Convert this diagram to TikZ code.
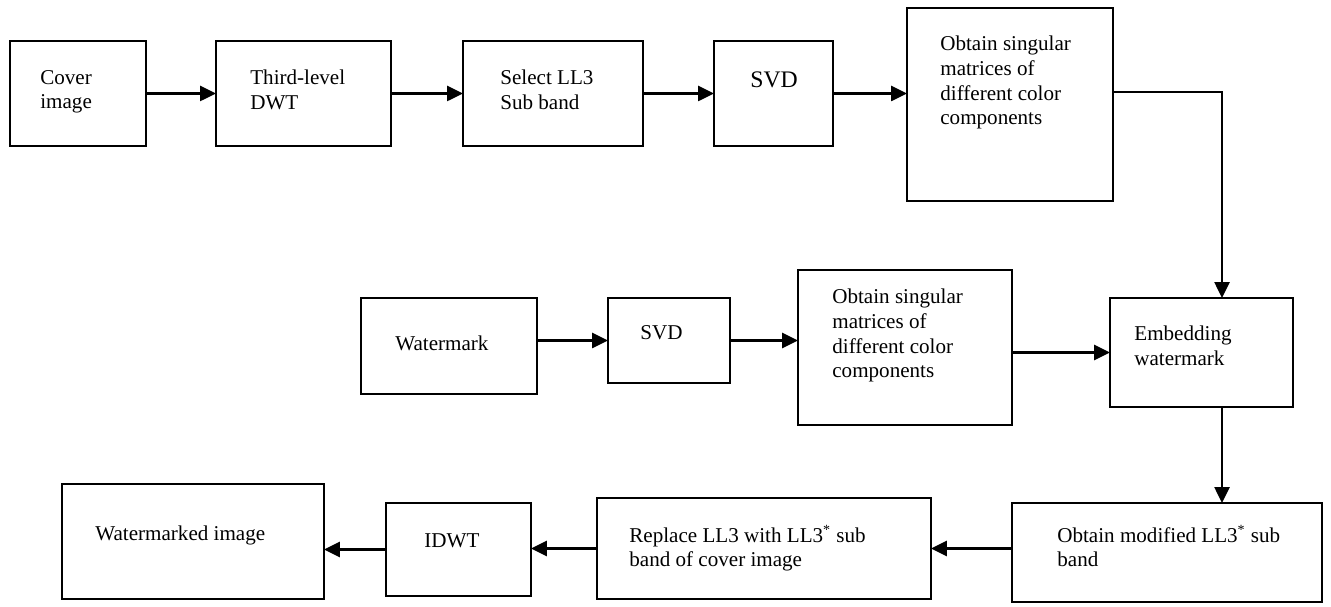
\documentclass[tikz,border=0pt]{standalone}
\usepackage{fontspec}
\setmainfont{Liberation Serif}
\usetikzlibrary{arrows.meta}
\tikzset{
  blk/.style={draw, line width=1.2pt, anchor=north west, inner sep=0pt, outer sep=0pt},
  txt/.style={anchor=north west, inner sep=0pt, align=left, font=\fontsize{12}{14}\selectfont},
  arr/.style={line width=1.3pt, -{Triangle[length=9pt,width=8.5pt]}},
}

\begin{document}
\begin{tikzpicture}[x=0.02cm, y=-0.02cm]
  \useasboundingbox (0,0) rectangle (1331,607);
  % first row
  \node[blk, minimum width=2.72cm, minimum height=2.10cm] (cover) at (10,41) {};
  \node[txt] (cover-t) at (40,70) {Cover\\image};
  \node[blk, minimum width=3.50cm, minimum height=2.10cm] (dwt) at (216,41) {};
  \node[txt] (dwt-t) at (250,70) {Third-level\\DWT};
  \node[blk, minimum width=3.60cm, minimum height=2.10cm] (sel) at (463,41) {};
  \node[txt] (sel-t) at (500,70) {Select LL3\\Sub band};
  \node[blk, minimum width=2.38cm, minimum height=2.10cm] (svdA) at (714,41) {};
  \node[txt, font=\fontsize{13.5}{15}\selectfont] (svdA-t) at (750,71) {SVD};
  \node[blk, minimum width=4.12cm, minimum height=3.86cm] (singA) at (907,8) {};
  \node[txt] (singA-t) at (940,36) {Obtain singular\\matrices of\\different color\\components};
  % second row
  \node[blk, minimum width=3.52cm, minimum height=1.92cm] (wmk) at (361,298) {};
  \node[txt] (wmk-t) at (395,336) {Watermark};
  \node[blk, minimum width=2.44cm, minimum height=1.70cm] (svdB) at (608,298) {};
  \node[txt] (svdB-t) at (640,325) {SVD};
  \node[blk, minimum width=4.28cm, minimum height=3.10cm] (singB) at (798,270) {};
  \node[txt] (singB-t) at (832,289) {Obtain singular\\matrices of\\different color\\components};
  \node[blk, minimum width=3.66cm, minimum height=2.18cm] (embed) at (1110,298) {};
  \node[txt] (embed-t) at (1134,326) {Embedding\\watermark};
  % third row
  \node[blk, minimum width=6.20cm, minimum height=1.98cm] (modif) at (1012,503) {};
  \node[txt] (modif-t) at (1057,525) {Obtain modified LL3\textsuperscript{*} sub\\band};
  \node[blk, minimum width=6.68cm, minimum height=2.02cm] (repl) at (597,498) {};
  \node[txt] (repl-t) at (629,525) {Replace LL3 with LL3\textsuperscript{*} sub\\band of cover image};
  \node[blk, minimum width=2.90cm, minimum height=1.86cm] (idwt) at (386,503) {};
  \node[txt] (idwt-t) at (424,533) {IDWT};
  \node[blk, minimum width=5.24cm, minimum height=2.30cm] (wmkd) at (62,484) {};
  \node[txt] (wmkd-t) at (95,526) {Watermarked image};

  \coordinate (bend) at (1222,92);
  \draw[arr] (cover) -- (dwt);
  \draw[arr] (dwt) -- (sel);
  \draw[arr] (sel) -- (svdA);
  \draw[arr] (svdA.east) -- (svdA.east -| singA.west);
  \draw[arr] (singA.east |- bend) -- (bend) -- (bend |- embed.north);
  \draw[arr] (wmk.east |- svdB.west) -- (svdB.west);
  \draw[arr] (svdB.east) -- (svdB.east -| singB.west);
  \draw[arr] (singB.east |- embed.west) -- (embed.west);
  \draw[arr] (bend |- embed.south) -- (bend |- modif.north);
  \draw[arr] (modif.west |- repl.east) -- (repl.east);
  \draw[arr] (repl.west) -- (repl.west -| idwt.east);
  \draw[arr] (idwt.west) -- (idwt.west -| wmkd.east);
\end{tikzpicture}
\end{document}
